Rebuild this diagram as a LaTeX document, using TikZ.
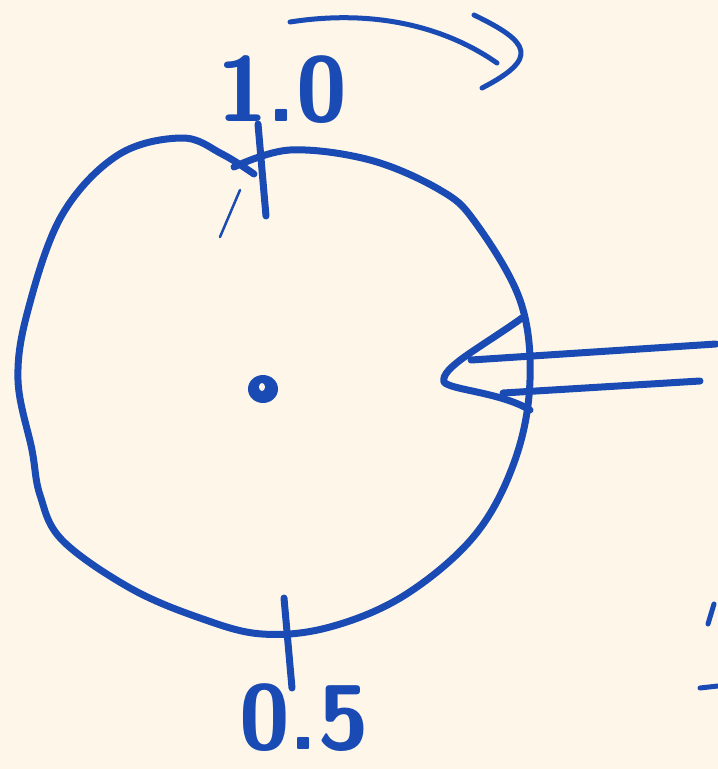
\documentclass[tikz,border=0pt]{standalone}
\usetikzlibrary{positioning}
\definecolor{ink}{HTML}{1A4AB3}
\definecolor{paper}{HTML}{FEF6E9}

\begin{document}
\begin{tikzpicture}[
  x=1pt, y=-1pt,
  pen/.style={draw=ink, line width=#1, line cap=round, line join=round},
  pen/.default=7pt,
  digits/.style={text=ink, font=\sffamily\bfseries\fontsize{92}{92}\selectfont, inner sep=0pt},
]
% ---------- Papier ----------
\fill[paper] (0,0) rectangle (718,769);
\useasboundingbox (0,0) rectangle (718,769);

% ---------- Zifferblatt ----------
\draw[pen] plot[smooth, tension=0.6] coordinates {
  (234,167) (290,150) (370,160) (440,190) (475,222)
  (520,300) (530,380) (515,460) (475,535) (405,595) (330,627) (262,634)
  (200,618) (130,588) (62,540) (40,495) (32,450) (18,380) (28,310) (62,215)
  (118,155) (182,138) (222,154) (254,174)};
\draw[pen=2.5pt] (220,237) -- (240,190);

% ---------- Mitte ----------
\fill[ink] (263,389) ellipse (15pt and 14pt);
\fill[paper] (262,387) ellipse (3pt and 4pt);

% ---------- Markierungen ----------
\draw[pen] (258,124) -- (266,216);
\draw[pen] (284,598) -- (292,688);
\node[digits] (top) at (282,90) {1.0};
\node[digits] (bottom) at (304,718) {0.5};

% ---------- Zeiger ----------
\draw[pen] (716,344) -- (471,360);
\draw[pen] (522,318) .. controls (480,348) and (440,368) .. (444,382)
  .. controls (450,390) and (500,392) .. (530,410);
\draw[pen] (700,381) -- (503,393);

% ---------- Drehrichtung ----------
\draw[pen=5pt] (290,22) .. controls (380,8) and (450,30) .. (497,63);
\draw[pen=5pt] (474,15) .. controls (530,42) and (540,58) .. (482,88);

% ---------- Rand rechts unten ----------
\draw[pen=5pt] (714,604) -- (708,624);
\draw[pen=5pt] (700,688) -- (718,686);
\end{tikzpicture}
\end{document}
